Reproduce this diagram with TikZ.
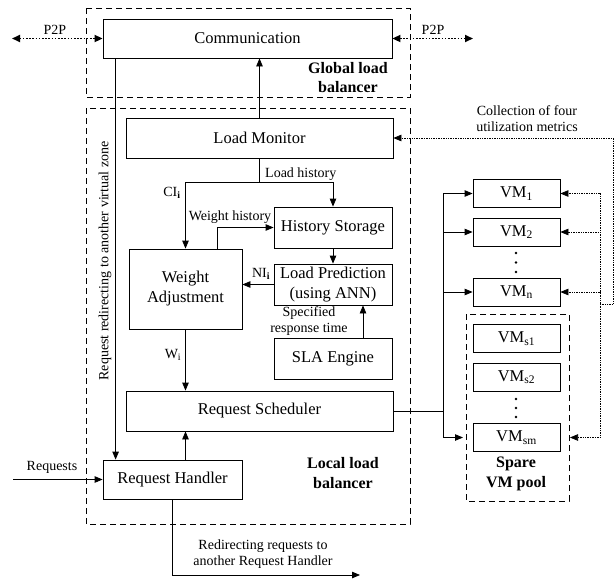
\documentclass[tikz,border=0pt]{standalone}
\usepackage{fontspec}
\setmainfont{Liberation Serif}
\usetikzlibrary{arrows.meta}
\begin{document}
\begin{tikzpicture}[x=1pt,y=-1pt,
  box/.style={draw,line width=0.8pt,inner sep=0pt,align=center,font=\fontsize{16.5}{20}\selectfont},
  vmbox/.style={box,minimum width=87pt,minimum height=28pt},
  zone/.style={draw,line width=0.8pt,dash pattern=on 6pt off 4pt},
  lbl/.style={inner sep=0pt,align=center,font=\fontsize{14}{16}\selectfont},
  blbl/.style={inner sep=0pt,align=center,font=\fontsize{16}{19.5}\selectfont\bfseries},
  conn/.style={line width=0.8pt},
  arr/.style={conn,-{Triangle[length=8pt,width=6.5pt]}},
  dotarr/.style={line width=0.7pt,dash pattern=on 0.8pt off 0.9pt,-{Triangle[length=8pt,width=6.5pt]}},
  p2p/.style={line width=1.7pt,dash pattern=on 1.7pt off 1.5pt,{Triangle[length=8pt,width=7pt]}-{Triangle[length=8pt,width=7pt]}}
]
\useasboundingbox (0,0) rectangle (616,579);
% zones
\draw[zone] (86,8) rectangle (410,97);
\draw[zone] (86,108) rectangle (410,524);
\draw[zone] (466,314) rectangle (569,501);
\coordinate (poolw) at (466,437.5);
\coordinate (poole) at (569,437.5);
% boxes
\node[box,minimum width=289pt,minimum height=39pt] (comm) at (247.5,38.5) {Communication};
\node[box,minimum width=267pt,minimum height=40pt] (lm) at (259.5,138) {Load Monitor};
\node[box,minimum width=118pt,minimum height=41pt] (hs) at (333,227.5) {History Storage};
\node[box,minimum width=118pt,minimum height=41pt] (lp) at (333,284.5) {Load Prediction\\(using ANN)};
\node[box,minimum width=113pt,minimum height=80pt] (wa) at (185.5,289) {Weight\\Adjustment};
\node[box,minimum width=118pt,minimum height=41pt] (sla) at (333,358.5) {SLA Engine};
\node[box,minimum width=267pt,minimum height=40pt] (rs) at (259.5,411) {Request Scheduler};
\node[box,minimum width=139pt,minimum height=39pt] (rh) at (172.5,479.5) {Request Handler};
\node[vmbox] (vm1) at (516.5,193.5) {VM\textsubscript{1}};
\node[vmbox] (vm2) at (516.5,232) {VM\textsubscript{2}};
\node[vmbox] (vmn) at (516.5,292) {VM\textsubscript{n}};
\node[vmbox] (vms1) at (516.5,338.5) {VM\textsubscript{s1}};
\node[vmbox] (vms2) at (516.5,377) {VM\textsubscript{s2}};
\node[vmbox] (vmsm) at (516.5,437.5) {VM\textsubscript{sm}};
% dots
\foreach \yy in {253,262.5,272,399,408,417} \fill (516,\yy) circle (1.4pt);
% labels
\node[lbl] (p2pl) at (55,30) {P2P};
\node[lbl] (p2pr) at (433,30) {P2P};
\node[blbl] (glb) at (348,77.5) {Global load\\balancer};
\node[blbl] (llb) at (343,473) {Local load\\balancer};
\node[blbl] (spare) at (516,474) {Spare\\VM pool};
\node[lbl] (coll) at (527,119) {Collection of four\\utilization metrics};
\node[lbl,anchor=west] (lh) at (265,174) {Load history};
\node[lbl] (ci) at (172,193) {CI\textsubscript{\textbf{i}}};
\node[lbl] (wh) at (230,217) {Weight history};
\node[lbl] (ni) at (261,274) {NI\textsubscript{\textbf{i}}};
\node[lbl] (srt) at (309,321.5) {Specified\\response time};
\node[lbl] (wi) at (173,355) {W\textsubscript{i}};
\node[lbl] (req) at (52,467) {Requests};
\node[lbl] (redir) at (263,554) {Redirecting requests to\\another Request Handler};
\node[lbl,rotate=90] (vz) at (105,261) {Request redirecting to another virtual zone};
% coordinates
\coordinate (pl) at (12,38.5);
\coordinate (pr) at (473,38.5);
\coordinate (split) at (259.5,182);
\coordinate (reqin) at (13,479.5);
\coordinate (redend) at (360,575);
\coordinate (bus) at (443,411);
\coordinate (c1) at (613,138);
\coordinate (c2) at (613,304);
\coordinate (c3) at (600,304);
% connectors
\draw[p2p] (pl) -- (comm.west);
\draw[p2p] (comm.east) -- (pr);
\draw[arr] (lm.north) -- (lm.north |- comm.south);
\draw[arr] ([xshift=13pt]comm.south west) -- ([xshift=13pt]rh.north west);
\draw[conn] (lm.south) -- (split);
\draw[arr] (split) -| (wa.north);
\draw[arr] (split) -| (hs.north);
\draw[arr] ([xshift=31.5pt]wa.north) |- (hs.west);
\draw[arr] (hs.south) -- (lp.north);
\draw[arr] (lp.west) -- (lp.west -| wa.east);
\draw[arr] ([xshift=30pt]sla.north) -- ([xshift=30pt]lp.south);
\draw[arr] (wa.south) -- (wa.south |- rs.north);
\draw[arr] (rh.north -| wa.south) -- (wa.south |- rs.south);
\draw[arr] (reqin) -- (rh.west);
\draw[arr] (rh.south) |- (redend);
\draw[conn] (rs.east) -- (bus);
\draw[arr] (bus) |- (vm1.west);
\draw[arr] (bus) |- (vm2.west);
\draw[arr] (bus) |- (vmn.west);
\draw[arr] (bus) |- ([xshift=-3pt]poolw);
\draw[dotarr] (c3) -- (c2) -- (c1) -- (lm.east);
\draw[dotarr] (c3) |- (vm1.east);
\draw[dotarr] (c3) |- (vm2.east);
\draw[dotarr] (c3) |- (vmn.east);
\draw[dotarr] (c3) |- ([xshift=1pt]poole);
\end{tikzpicture}
\end{document}
